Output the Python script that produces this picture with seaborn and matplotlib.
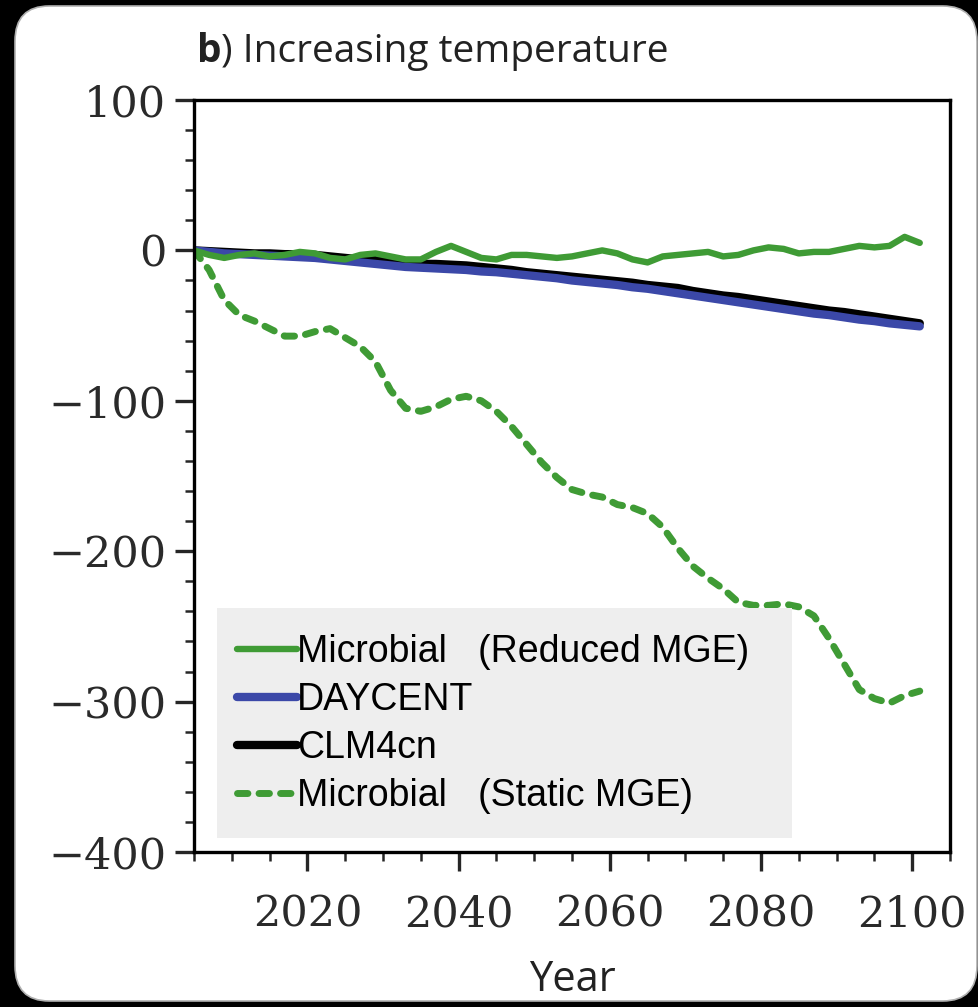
import matplotlib
matplotlib.use("Agg")
import matplotlib.pyplot as plt
import seaborn as sns
from matplotlib.patches import FancyBboxPatch, Rectangle
from matplotlib.ticker import MultipleLocator

# ---- data: change in soil carbon stock under warming ----
years = list(range(2005, 2102, 2))

microbial_reduced = [0, -3, -5, -3, -2, -4, -3, -1, -2, -5, -6, -3, -2, -4, -6, -6,
                     -1, 3, -1, -5, -6, -3, -3, -4, -5, -4, -2, 0, -2, -6, -8, -4,
                     -3, -2, -1, -4, -3, 0, 2, 1, -2, -1, -1, 1, 3, 2, 3, 9, 5]

daycent = [0, -1, -2, -2.5, -3, -3.5, -4, -4.5, -5, -6, -7, -8, -9, -10, -11, -11.5,
           -12, -12.5, -13, -14, -14.5, -15.5, -16.5, -17.5, -18.5, -20, -21, -22,
           -23, -24.5, -25.5, -27, -28.5, -30, -31.5, -33, -34.5, -36, -37.5, -39,
           -40.5, -42, -43, -44.5, -46, -47, -48.5, -49.5, -50.5]

clm4cn = [0, -0.5, -1, -1.5, -2, -2, -2.5, -2.5, -3, -4, -5, -6, -6.5, -7.5, -8.5, -9,
          -9, -9.5, -10, -11, -12, -13, -14.5, -15.5, -16.5, -17.5, -18.5, -19.5,
          -20.5, -21.5, -23, -24, -25, -27, -28.5, -30, -31, -32.5, -34, -35.5, -37,
          -38.5, -40, -41, -42.5, -44, -45.5, -47, -48.5]

microbial_static = [0, -13, -33, -43, -47, -52, -57, -57, -54, -52, -58, -64, -74, -93,
                    -105, -107, -104, -99, -97, -100, -107, -117, -129, -141, -151, -159,
                    -162, -164, -169, -171, -175, -184, -198, -210, -218, -225, -234,
                    -236, -236, -235, -237, -243, -258, -275, -292, -298, -301, -296, -293]

labels = ["Microbial   (Reduced MGE)", "DAYCENT", "CLM4cn", "Microbial   (Static MGE)"]
x_ticks = [2020, 2040, 2060, 2080, 2100]
y_ticks = [100, 0, -100, -200, -300, -400]

GREEN = "#3F9B35"
BLUE = "#3B48A8"

sns.set_theme(style="ticks")
plt.rcParams["font.family"] = ["DejaVu Serif"]

W, H = 979, 1007
fig = plt.figure(figsize=(W / 100, H / 100), dpi=100, facecolor="black")

# white rounded card on black background
card = FancyBboxPatch((15 / W, 6 / H), (977 - 15) / W, (1001 - 6) / H,
                      boxstyle="round,pad=0,rounding_size=0.035",
                      transform=fig.transFigure, facecolor="white",
                      edgecolor="#b0b0b0", linewidth=1.2, zorder=-10)
fig.patches.append(card)

ax = fig.add_axes([194 / W, 1 - 852 / H, (950 - 194) / W, (852 - 100) / H])
ax.set_facecolor("white")
ax.set_zorder(1)

sns.lineplot(x=years, y=clm4cn, ax=ax, color="black", linewidth=6.0, label=labels[2])
sns.lineplot(x=years, y=daycent, ax=ax, color=BLUE, linewidth=6.0, label=labels[1])
sns.lineplot(x=years, y=microbial_reduced, ax=ax, color=GREEN, linewidth=4.6, label=labels[0])
sns.lineplot(x=years, y=microbial_static, ax=ax, color=GREEN, linewidth=5.0, label=labels[3])

h_clm, h_day, h_red, h_sta = ax.lines[:4]
for h in (h_clm, h_day, h_red):
    h.set_solid_capstyle("round")
    h.set_solid_joinstyle("round")
h_sta.set_linestyle((0, (1.5, 1.6)))
h_sta.set_dash_capstyle("round")
h_sta.set_dash_joinstyle("round")

ax.set_xlim(2005, 2105)
ax.set_ylim(-400, 100)
ax.set_xticks(x_ticks)
ax.set_yticks(y_ticks)
ax.xaxis.set_minor_locator(MultipleLocator(5))
ax.yaxis.set_minor_locator(MultipleLocator(20))

for side in ["left", "bottom", "top", "right"]:
    ax.spines[side].set_linewidth(2.4)
    ax.spines[side].set_color("black")

ax.tick_params(axis="both", which="major", direction="out", length=14, width=2.4,
               labelsize=31, labelcolor="#2a2a2a", top=False, right=False)
ax.tick_params(axis="both", which="minor", direction="out", length=6.5, width=1.8,
               top=False, right=False)
ax.tick_params(axis="x", which="major", pad=16)
ax.tick_params(axis="y", which="major", pad=6)

ax.set_xlabel("Year", family="Open Sans", fontsize=30, color="#222222", labelpad=17)
ax.set_ylabel("")

# panel title with bold letter
t1 = fig.text(197 / W, 1 - 62 / H, "b", family="Open Sans", fontweight="bold",
              fontsize=28, color="#222222", va="baseline", ha="left")
fig.add_artist(matplotlib.text.Annotation(
    ") Increasing temperature", xy=(1, 0), xycoords=t1, va="bottom", ha="left",
    family="Open Sans", fontsize=28, color="#222222"))

# legend on a light grey panel
ax.add_patch(Rectangle(((217 - 194) / 756, (852 - 838) / 752), (792 - 217) / 756,
                       (838 - 608) / 752, transform=ax.transAxes,
                       facecolor="#EEEEEE", edgecolor="none", zorder=4))
leg = ax.legend(handles=[h_red, h_day, h_clm, h_sta], labels=labels,
                loc="upper left", bbox_to_anchor=((237 - 194) / 756, (852 - 634) / 752),
                frameon=False, prop=dict(family="Liberation Sans", size=27),
                handlelength=1.6, handletextpad=0.0, labelspacing=0.32,
                borderpad=0, borderaxespad=0)
leg.set_zorder(5)
for txt in leg.get_texts():
    txt.set_color("black")

fig.savefig("out.png", dpi=100, facecolor="black")
